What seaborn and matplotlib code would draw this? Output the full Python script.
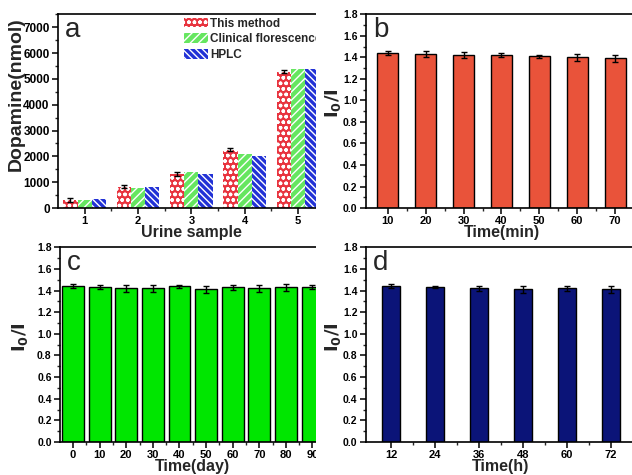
import numpy as np
import pandas as pd
import matplotlib
matplotlib.use("Agg")
import matplotlib.pyplot as plt
import seaborn as sns
from matplotlib.patches import Rectangle
from matplotlib.ticker import AutoMinorLocator, MultipleLocator

# panel a : dopamine in urine samples
samples = ["1", "2", "3", "4", "5"]
methods = ["This method", "Clinical florescence", "HPLC"]
this_method = [300, 830, 1320, 2250, 5280]
this_method_err = [80, 60, 80, 60, 60]
clinical = [330, 790, 1380, 2100, 5400]
hplc = [340, 810, 1320, 2000, 5400]

# panel b : time (min)
time_min = ["10", "20", "30", "40", "50", "60", "70"]
ratio_min = [1.44, 1.43, 1.42, 1.42, 1.41, 1.40, 1.39]
err_min = [0.015, 0.03, 0.025, 0.02, 0.015, 0.03, 0.03]

# panel c : time (day)
time_day = ["0", "10", "20", "30", "40", "50", "60", "70", "80", "90"]
ratio_day = [1.44, 1.43, 1.42, 1.42, 1.44, 1.41, 1.43, 1.42, 1.43, 1.43]
err_day = [0.02, 0.02, 0.03, 0.03, 0.015, 0.035, 0.025, 0.03, 0.03, 0.02]

# panel d : time (h)
time_h = ["12", "24", "36", "48", "60", "72"]
ratio_h = [1.44, 1.43, 1.42, 1.41, 1.42, 1.41]
err_h = [0.02, 0.01, 0.02, 0.03, 0.02, 0.03]

sns.set_style("ticks")
plt.rcParams["font.family"] = ["Liberation Sans", "DejaVu Sans"]
plt.rcParams["font.weight"] = "bold"
plt.rcParams["axes.labelweight"] = "bold"
plt.rcParams["axes.linewidth"] = 1.2
plt.rcParams["hatch.linewidth"] = 1.0
plt.rcParams["mathtext.default"] = "bf"

fig = plt.figure(figsize=(6.32, 4.75), dpi=100)
ax_a = fig.add_axes([0.0918, 0.562, 0.422, 0.408], zorder=0)
ax_c = fig.add_axes([0.095, 0.0695, 0.42, 0.41], zorder=0)
ax_b = fig.add_axes([0.579, 0.562, 0.429, 0.408], zorder=2)
ax_d = fig.add_axes([0.579, 0.0695, 0.427, 0.41], zorder=2)
# right halves are pasted over the left panels (their right edges are hidden)
fig.patches.append(Rectangle((316 / 632, 0), 1, 1, transform=fig.transFigure,
                             facecolor="white", edgecolor="none", zorder=1))


def style(ax, letter, xlabel, ylabel, n, ysize=7.5, ylabsize=13, labx=-0.1, laby=0.54):
    ax.tick_params(axis="both", which="major", direction="out", length=4, width=1.1,
                   labelsize=ysize, pad=2, colors="black")
    ax.tick_params(axis="both", which="minor", direction="out", length=2, width=1.0)
    ax.tick_params(axis="x", labelsize=8)
    for lab in ax.get_xticklabels() + ax.get_yticklabels():
        lab.set_fontweight("bold")
    ax.set_xticks(np.arange(n - 1) + 0.5, minor=True)
    ax.yaxis.set_minor_locator(AutoMinorLocator(2))
    ax.set_xlabel(xlabel, fontsize=11.5, labelpad=-1)
    ax.set_ylabel(ylabel, fontsize=ylabsize)
    ax.yaxis.set_label_coords(labx, laby)
    for s in ax.spines.values():
        s.set_visible(True)
        s.set_color("black")
        s.set_linewidth(1.2)
    ax.text(0.025, 0.985, letter, transform=ax.transAxes, fontsize=20,
            fontweight="normal", va="top", ha="left")


# ---- panel a
df_a = pd.DataFrame({
    "sample": samples * 3,
    "method": np.repeat(methods, len(samples)),
    "value": this_method + clinical + hplc,
})
sns.barplot(data=df_a, x="sample", y="value", hue="method", hue_order=methods,
            palette=["#E8343F", "#66E660", "#2232D6"], errorbar=None, width=0.8,
            saturation=1, ax=ax_a, legend=False)
hatches = ["ooo", "////", "\\\\\\\\\\"]
for cont, h in zip(ax_a.containers, hatches):
    for p in cont:
        p.set_hatch(h)
        p.set_edgecolor("white")
        p.set_linewidth(0)
xs = [p.get_x() + p.get_width() / 2 for p in ax_a.containers[0]]
ax_a.errorbar(xs, this_method, yerr=this_method_err, fmt="none", ecolor="black",
              elinewidth=1.0, capsize=2, capthick=1.0)
ax_a.set_xlim(-0.5, 4.5)
ax_a.set_ylim(0, 7500)
ax_a.yaxis.set_major_locator(MultipleLocator(1000))
leg = ax_a.legend(ax_a.containers, methods, loc="upper left", bbox_to_anchor=(0.465, 0.995),
                  frameon=False, fontsize=8.5, handlelength=2.0, handleheight=0.9,
                  handletextpad=0.2, borderaxespad=0, borderpad=0.2, labelspacing=0.32)
for t in leg.get_texts():
    t.set_fontweight("bold")
style(ax_a, "a", "Urine sample", "Dopamine(nmol)", len(samples), ysize=8.5,
      ylabsize=14, labx=-0.125, laby=0.59)

# ---- panel b
sns.barplot(x=time_min, y=ratio_min, color="#E9533A", saturation=1, width=0.55,
            edgecolor="black", linewidth=1.0, errorbar=None, ax=ax_b)
ax_b.errorbar(np.arange(len(time_min)), ratio_min, yerr=err_min, fmt="none",
              ecolor="black", elinewidth=1.0, capsize=2, capthick=1.0)
ax_b.set_xlim(-0.58, 6.58)
ax_b.set_ylim(0, 1.8)
ax_b.yaxis.set_major_locator(MultipleLocator(0.2))
style(ax_b, "b", "Time(min)", r"$I_0/I$", len(time_min), labx=-0.085)

# ---- panel c
sns.barplot(x=time_day, y=ratio_day, color="#00E600", saturation=1, width=0.82,
            edgecolor="black", linewidth=1.0, errorbar=None, ax=ax_c)
ax_c.errorbar(np.arange(len(time_day)), ratio_day, yerr=err_day, fmt="none",
              ecolor="black", elinewidth=1.0, capsize=2, capthick=1.0)
ax_c.set_xlim(-0.49, 9.49)
ax_c.set_ylim(0, 1.8)
ax_c.yaxis.set_major_locator(MultipleLocator(0.2))
style(ax_c, "c", "Time(day)", r"$I_0/I$", len(time_day), labx=-0.115)

# ---- panel d
sns.barplot(x=time_h, y=ratio_h, color="#0B1478", saturation=1, width=0.42,
            edgecolor="black", linewidth=1.0, errorbar=None, ax=ax_d)
ax_d.errorbar(np.arange(len(time_h)), ratio_h, yerr=err_h, fmt="none",
              ecolor="black", elinewidth=1.0, capsize=2, capthick=1.0)
ax_d.set_xlim(-0.57, 5.57)
ax_d.set_ylim(0, 1.8)
ax_d.yaxis.set_major_locator(MultipleLocator(0.2))
style(ax_d, "d", "Time(h)", r"$I_0/I$", len(time_h), labx=-0.085)

fig.savefig("out.png", dpi=100)
